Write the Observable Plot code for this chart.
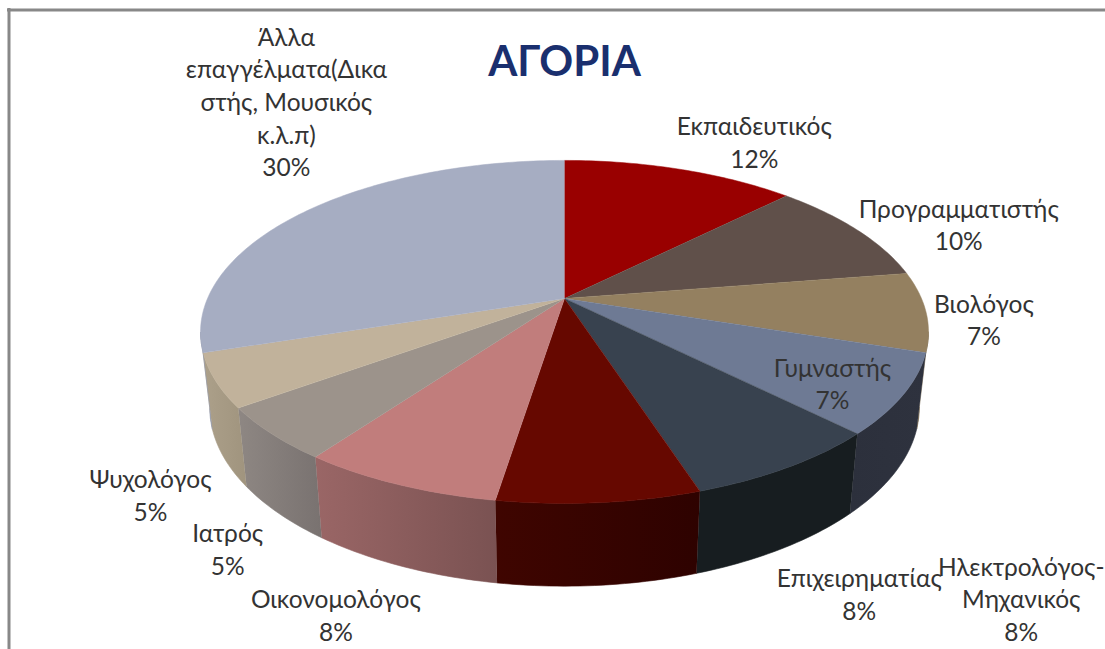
<!DOCTYPE html>
<html>
<head>
<meta charset="utf-8">
<style>html,body{margin:0;padding:0;background:#fff;overflow:hidden}</style>
<script src="https://cdn.jsdelivr.net/npm/d3@7"></script>
<script src="https://cdn.jsdelivr.net/npm/@observablehq/plot@0.6"></script>
</head>
<body>
<div id="chart"></div>
<script>
// ---- data ----
const title = "ΑΓΟΡΙΑ";
const categories = [
  "Εκπαιδευτικός", "Προγραμματιστής", "Βιολόγος", "Γυμναστής", "Επιχειρηματίας",
  "Ηλεκτρολόγος-\nΜηχανικός", "Οικονομολόγος", "Ιατρός", "Ψυχολόγος",
  "Άλλα\nεπαγγέλματα(Δικα\nστής, Μουσικός\nκ.λ.π)"
];
const shares = [12.5, 10, 7.5, 7.5, 7.5, 7.5, 7.5, 5, 5, 30];
const percentLabels = ["12%", "10%", "7%", "7%", "8%", "8%", "8%", "5%", "5%", "30%"];

// ---- styles ----
const topColors = ["#990000", "#60504a", "#948060", "#6e7a94", "#38424f", "#660800", "#c17d7c", "#9c938b", "#c1b29b", "#a6adc2"];
const sideLeft  = ["#660000", "#40342f", "#6e5f47", "#2c303c", "#171d20", "#3f0500", "#9a6666", "#8e8783", "#aca08a", "#8e94a6"];
const sideRight = ["#660000", "#40342f", "#6b5c45", "#2e323e", "#171d20", "#2e0200", "#7a5252", "#797270", "#a0947e", "#8e94a6"];

// ---- layout ----
const W = 1105, H = 649;
const cx = 564;
const tilt = 0.195;                              // perspective strength
const topFace = {x: 357, y: 165, cy: 298};       // projected circle, top
const bottomFace = {x: 348, y: 172, cy: 372};    // projected circle, bottom
const labelShiftX = [74, 102, 58, -71, 71, 422, -62, -44, -65, -19];
const labelShiftY = [-28, -6, 7, -12, 126, 95, 129.5, 114, 113.5, -111];
const fontFamily = "Lato, 'Open Sans', sans-serif";

const rad = (deg) => (deg * Math.PI) / 180;
function project(face, deg) {
  const u = Math.sin(rad(deg)), v = Math.cos(rad(deg)), w = 1 + tilt * v;
  return {x: cx + (face.x * u) / w, y: face.cy - (face.y * v) / w};
}
function arc(face, a, b) {
  const n = Math.max(2, Math.ceil(Math.abs(b - a)));
  return d3.range(n + 1).map((i) => project(face, a + ((b - a) * i) / n));
}

// angles from shares
const total = d3.sum(shares);
const ends = d3.cumsum(shares).map((s) => (s / total) * 360);
const starts = ends.map((e, i) => (i ? ends[i - 1] : 0));

// visible side wall runs between the silhouette points of the projected circle
const wallFrom = (Math.acos(-tilt) * 180) / Math.PI;
const wallTo = 360 - wallFrom;

const defs = () => {
  const d = d3.create("svg:defs");
  categories.forEach((_, i) => {
    const g = d.append("linearGradient").attr("id", `wall${i}`);
    g.append("stop").attr("offset", "0%").attr("stop-color", sideLeft[i]);
    g.append("stop").attr("offset", "100%").attr("stop-color", sideRight[i]);
  });
  return d.node();
};

const wallMarks = categories.flatMap((_, i) => {
  const a = Math.max(starts[i], wallFrom), b = Math.min(ends[i], wallTo);
  if (a >= b) return [];
  const pts = [...arc(topFace, a, b), ...arc(bottomFace, b, a)];
  const paint = `url(#wall${i})`;
  return [Plot.line(pts, {x: "x", y: "y", fill: paint, stroke: paint, strokeWidth: 0.6})];
});

const topMarks = categories.map((_, i) => {
  const pts = [project({...topFace, x: 0, y: 0}, 0), ...arc(topFace, starts[i], ends[i])];
  return Plot.line(pts, {x: "x", y: "y", fill: topColors[i], stroke: topColors[i], strokeWidth: 0.5});
});

const labels = categories.map((c, i) => {
  const rim = project(topFace, (starts[i] + ends[i]) / 2);
  return {text: `${c}\n${percentLabels[i]}`, x: rim.x + labelShiftX[i], y: rim.y + labelShiftY[i]};
});

const plot = Plot.plot({
  width: W, height: H,
  margin: 0,
  x: {domain: [0, W], range: [0, W], axis: null},
  y: {domain: [0, H], range: [0, H], axis: null},
  style: {background: "#fff", fontFamily},
  marks: [
    defs,
    Plot.ruleX([8.5], {y1: 8, y2: H, stroke: "#888", strokeWidth: 3}),
    Plot.ruleY([9.5], {x1: 7, x2: W, stroke: "#888", strokeWidth: 3}),
    ...wallMarks,
    ...topMarks,
    Plot.text([title], {x: () => cx, y: () => 62, fontSize: 42, fontWeight: 700, fill: "#1a2f6e", textAnchor: "middle", lineAnchor: "middle"}),
    Plot.text(labels, {x: "x", y: "y", text: "text", fontSize: 24.5, lineHeight: 32.6 / 24.5, fill: "#333", textAnchor: "middle", lineAnchor: "middle"})
  ]
});
document.getElementById("chart").append(plot);
</script>
</body>
</html>
